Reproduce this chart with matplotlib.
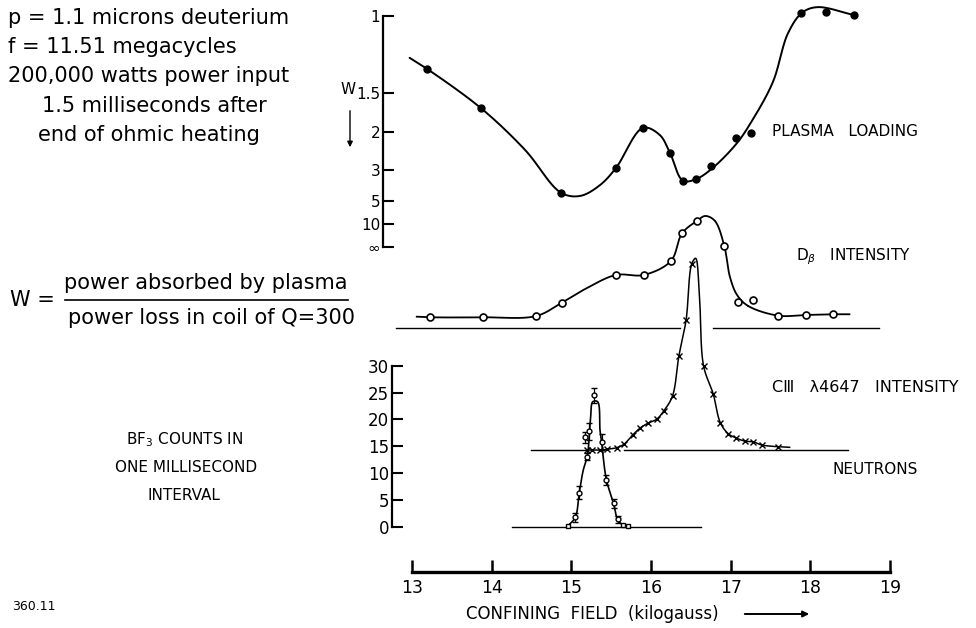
import numpy as np
import matplotlib
matplotlib.use('Agg')
import matplotlib.pyplot as plt
from matplotlib.lines import Line2D

# ---------------- data ----------------
field_ticks = [13, 14, 15, 16, 17, 18, 19]
w_ticks = [1, 1.5, 2, 3, 5, 10, np.inf]
w_tick_labels = ['1', '1.5', '2', '3', '5', '10', '∞']
count_ticks = [0, 5, 10, 15, 20, 25, 30]

# plasma loading W (axis linear in 1/W)
plasma_field = [13.19, 13.87, 14.87, 15.56, 15.90, 16.24, 16.40, 16.56, 16.75, 17.07, 17.26, 17.88, 18.20, 18.55]
plasma_W = [1.297, 1.667, 4.26, 2.92, 1.94, 2.46, 3.48, 3.41, 2.84, 2.12, 2.02, 0.988, 0.981, 0.996]
plasma_curve_field = [12.97, 13.19, 13.87, 14.42, 14.87, 15.11, 15.36, 15.56, 15.90, 16.11, 16.24, 16.40,
                      16.56, 16.75, 17.07, 17.26, 17.53, 17.72, 17.90, 18.09, 18.55]
plasma_curve_W = [1.221, 1.297, 1.667, 2.381, 4.255, 4.525, 3.731, 2.924, 1.938, 2.062, 2.463, 3.484,
                  3.413, 2.985, 2.242, 1.845, 1.400, 1.080, 0.985, 0.963, 0.996]

# D-beta intensity (arbitrary units above its baseline)
db_base = 37.0
db_field = [13.23, 13.89, 14.56, 14.88, 15.56, 15.91, 16.25, 16.39, 16.58, 16.92, 17.09, 17.28, 17.60, 17.94, 18.28]
db_int = [2.0, 2.0, 2.24, 4.71, 9.87, 9.87, 12.47, 17.62, 19.96, 15.26, 4.90, 5.22, 2.30, 2.43, 2.56]
db_curve_field = [13.06, 13.23, 13.89, 14.56, 14.88, 15.19, 15.56, 15.91, 16.25, 16.39, 16.58, 16.68,
                  16.80, 16.92, 16.99, 17.08, 17.22, 17.60, 17.94, 18.28, 18.49]
db_curve_int = [2.11, 2.0, 2.0, 2.24, 4.71, 7.39, 9.87, 9.87, 12.47, 17.62, 19.96, 20.84,
                19.96, 15.26, 9.55, 6.15, 4.10, 2.30, 2.43, 2.56, 2.56]
db_baseline_segments = [(12.80, 16.36), (16.78, 18.86)]

# C III 4647 intensity (arbitrary units above its baseline)
c3_base = 14.3
c3_field = [15.20, 15.26, 15.36, 15.45, 15.57, 15.66, 15.77, 15.86, 15.96, 16.07, 16.16, 16.27,
            16.35, 16.44, 16.51, 16.66, 16.78, 16.87, 16.97, 17.07, 17.18, 17.28, 17.39, 17.60]
c3_int = [0.0, 0.0, 0.0, 0.15, 0.45, 1.08, 2.81, 4.06, 4.99, 5.73, 7.27, 10.06,
          17.50, 24.14, 34.56, 15.64, 10.49, 5.10, 3.04, 2.25, 1.66, 1.56, 0.95, 0.63]
c3_curve_field = [15.20, 15.26, 15.36, 15.45, 15.57, 15.66, 15.77, 15.86, 15.96, 16.07, 16.16, 16.27,
                  16.35, 16.44, 16.51, 16.56, 16.61, 16.66, 16.78, 16.87, 16.97, 17.07, 17.18, 17.28,
                  17.39, 17.60, 17.74]
c3_curve_int = [0.0, 0.0, 0.0, 0.15, 0.45, 1.08, 2.81, 4.06, 4.99, 5.73, 7.27, 10.06,
                17.50, 24.14, 34.56, 35.67, 27.92, 15.64, 10.49, 5.10, 3.04, 2.25, 1.66, 1.56,
                0.95, 0.63, 0.52]
c3_baseline_segments = [(14.50, 15.17), (15.66, 18.47)]

# BF3 neutron counts in one millisecond interval
n_field = [15.05, 15.10, 15.17, 15.22, 15.20, 15.29, 15.38, 15.44, 15.53, 15.58]
n_counts = [1.8, 6.4, 16.7, 17.8, 13.1, 24.5, 15.8, 8.8, 4.4, 1.4]
n_err = [0.8, 1.2, 1.0, 1.6, 0.6, 1.4, 1.5, 0.9, 0.9, 0.6]
n_zero_field = [14.96, 15.65, 15.71]
n_zero_counts = [0.2, 0.4, 0.2]
n_curve_field = [14.96, 15.05, 15.10, 15.15, 15.20, 15.24, 15.27, 15.33, 15.36, 15.38, 15.44, 15.53, 15.58, 15.64]
n_curve_counts = [0.24, 1.8, 6.4, 10.6, 13.1, 19.9, 23.3, 23.3, 18.0, 15.8, 8.8, 4.4, 1.4, 0.4]
n_baseline = (14.25, 16.63)

# ---------------- figure ----------------
W_PX, H_PX = 976, 628
fig = plt.figure(figsize=(W_PX / 100, H_PX / 100), dpi=100)
fig.patch.set_facecolor('white')
FONT = ['DejaVu Sans']
plt.rcParams['font.family'] = FONT


def fx(px):
    return px / W_PX


def fy(py):
    return 1 - py / H_PX


def smooth(ax, xs, ys, n=24):
    """centripetal Catmull-Rom through knots, computed in display space"""
    pts = ax.transData.transform(np.column_stack([xs, ys]))
    P = np.vstack([2 * pts[0] - pts[1], pts, 2 * pts[-1] - pts[-2]])
    out = []
    for i in range(1, len(P) - 2):
        p0, p1, p2, p3 = P[i - 1], P[i], P[i + 1], P[i + 2]
        t0 = 0.0
        t1 = t0 + max(np.linalg.norm(p1 - p0), 1e-6) ** 0.5
        t2 = t1 + max(np.linalg.norm(p2 - p1), 1e-6) ** 0.5
        t3 = t2 + max(np.linalg.norm(p3 - p2), 1e-6) ** 0.5
        t = np.linspace(t1, t2, n)[:, None]
        A1 = (t1 - t) / (t1 - t0) * p0 + (t - t0) / (t1 - t0) * p1
        A2 = (t2 - t) / (t2 - t1) * p1 + (t - t1) / (t2 - t1) * p2
        A3 = (t3 - t) / (t3 - t2) * p2 + (t - t2) / (t3 - t2) * p3
        B1 = (t2 - t) / (t2 - t0) * A1 + (t - t0) / (t2 - t0) * A2
        B2 = (t3 - t) / (t3 - t1) * A2 + (t - t1) / (t3 - t1) * A3
        C = (t2 - t) / (t2 - t1) * B1 + (t - t1) / (t2 - t1) * B2
        out.append(C)
    out = np.vstack(out)
    d = ax.transData.inverted().transform(out)
    return d[:, 0], d[:, 1]


XLIM = (12.5, 19.5)
left = 372.15 / W_PX
width = (929.85 - 372.15) / W_PX

# ---- upper panel: plasma loading ----
ax1 = fig.add_axes([left, fy(250), width, 250 / H_PX])
ax1.set_facecolor('none')
ax1.set_xlim(*XLIM)
ax1.set_ylim(-0.013, 1.0693)
for s in ['top', 'right', 'bottom']:
    ax1.spines[s].set_visible(False)
ax1.spines['left'].set_position(('data', 12.636))
ax1.spines['left'].set_bounds(0, 1)
ax1.spines['left'].set_linewidth(1.6)
inv_ticks = [0.0 if np.isinf(w) else 1.0 / w for w in w_ticks]
ax1.set_yticks(inv_ticks)
ax1.set_yticklabels(w_tick_labels)
ax1.set_xticks([])
ax1.tick_params(axis='y', direction='in', length=8, width=1.5, labelsize=11, pad=2)

pv = 1.0 / np.array(plasma_curve_W)
cx, cy = smooth(ax1, plasma_curve_field, pv)
ax1.plot(cx, cy, color='black', lw=1.4, solid_capstyle='round')
ax1.plot(plasma_field, 1.0 / np.array(plasma_W), 'o', color='black', ms=5)

# ---- lower panel: D-beta, C III, neutrons ----
ax2 = fig.add_axes([left, 0, width, 428 / H_PX])
ax2.set_facecolor('none')
ax2.set_xlim(*XLIM)
ax2.set_ylim(-18.78, 60.81)
for s in ['top', 'right']:
    ax2.spines[s].set_visible(False)
ax2.spines['left'].set_position(('data', 12.745))
ax2.spines['left'].set_bounds(0, 30)
ax2.spines['left'].set_linewidth(1.6)
ax2.spines['bottom'].set_position(('data', -8.31))
ax2.spines['bottom'].set_bounds(13, 19)
ax2.spines['bottom'].set_linewidth(2.4)
ax2.set_yticks(count_ticks)
ax2.set_xticks(field_ticks)
ax2.tick_params(axis='y', direction='in', length=8, width=1.5, labelsize=12, pad=2)
ax2.tick_params(axis='x', direction='in', length=9, width=1.8, labelsize=12.5, pad=5)

# D-beta
for a, b in db_baseline_segments:
    ax2.plot([a, b], [db_base, db_base], color='black', lw=1.0)
cx, cy = smooth(ax2, db_curve_field, db_base + np.array(db_curve_int))
ax2.plot(cx, cy, color='black', lw=1.3)
ax2.plot(db_field, db_base + np.array(db_int), 'o', ms=5, mfc='white', mec='black', mew=1.2)

# C III
for a, b in c3_baseline_segments:
    ax2.plot([a, b], [c3_base, c3_base], color='black', lw=1.0)
cx, cy = smooth(ax2, c3_curve_field, c3_base + np.array(c3_curve_int))
ax2.plot(cx, cy, color='black', lw=1.1)
ax2.plot(c3_field, c3_base + np.array(c3_int), 'x', ms=4, color='black', mew=1.0)

# neutrons
ax2.plot(list(n_baseline), [0, 0], color='black', lw=1.0)
cx, cy = smooth(ax2, n_curve_field, n_curve_counts)
ax2.plot(cx, cy, color='black', lw=1.2)
ax2.errorbar(n_field, n_counts, yerr=n_err, fmt='o', ms=3.5, mfc='white', mec='black',
             mew=1.0, ecolor='black', elinewidth=0.9, capsize=2)
ax2.plot(n_zero_field, n_zero_counts, 's', ms=3.5, mfc='white', mec='black', mew=1.0)

# ---------------- texts ----------------
def T(x, y, s, size, ha='left', **kw):
    fig.text(fx(x), fy(y), s, fontsize=size, ha=ha, va='center', family=FONT, **kw)

T(8, 18, 'p = 1.1 microns deuterium', 15)
T(8, 47, 'f = 11.51 megacycles', 15)
T(8, 76, '200,000 watts power input', 15)
T(42, 106, '1.5 milliseconds after', 15)
T(38, 135, 'end of ohmic heating', 15)

T(348, 90, 'W', 11, ha='center')
fig.add_artist(matplotlib.patches.FancyArrowPatch((fx(350), fy(108)), (fx(350), fy(150)),
               transform=fig.transFigure, arrowstyle='-|>', mutation_scale=8, lw=1.0, color='black'))

T(10, 300, 'W =', 15)
T(206, 283, 'power absorbed by plasma', 15, ha='center')
T(212, 318, 'power loss in coil of Q=300', 15, ha='center')
fig.add_artist(Line2D([fx(65), fx(348)], [fy(300), fy(300)], color='black', lw=1.2,
                      transform=fig.transFigure))

T(772, 131, 'PLASMA   LOADING', 11)
T(796, 257, r'D$_\beta$   INTENSITY', 11)
T(772, 387, 'CⅢ   λ4647   INTENSITY', 11.5)
T(833, 469, 'NEUTRONS', 11)
T(184, 440, r'BF$_3$ COUNTS IN', 11, ha='center')
T(186, 468, 'ONE MILLISECOND', 11, ha='center')
T(184, 495, 'INTERVAL', 11, ha='center')
T(12, 607, '360.11', 9)
T(466, 614, 'CONFINING  FIELD  (kilogauss)', 12)
fig.add_artist(matplotlib.patches.FancyArrowPatch((fx(742), fy(614)), (fx(812), fy(614)),
               transform=fig.transFigure, arrowstyle='-|>', mutation_scale=9, lw=1.4, color='black'))

fig.savefig('out.png', dpi=100, facecolor='white')
